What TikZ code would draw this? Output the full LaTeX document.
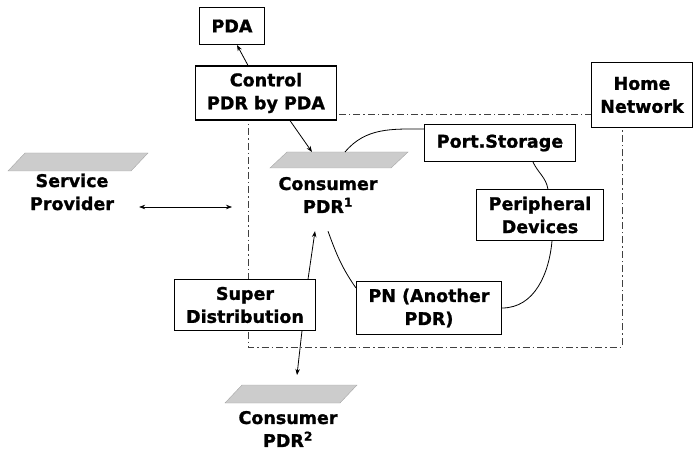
\documentclass[tikz,border=0pt]{standalone}
\usepackage{fontspec}
\setmainfont{DejaVu Sans}[BoldFeatures={FakeBold=1.2}]
\usetikzlibrary{arrows.meta}

\begin{document}
\begin{tikzpicture}[x=1pt, y=1pt,
    every node/.style={font=\fontsize{17.5}{23}\selectfont\bfseries, align=center},
    box/.style={draw, line width=1.1pt, fill=white, inner xsep=12pt, inner ysep=7pt, minimum height=37pt},
    plate/.style={fill=black!20, draw=black!35, line width=0.4pt},
    pdr/.style={inner xsep=25pt, inner ysep=18pt},
    link/.style={line width=0.8pt},
    arr/.style={link, -{Stealth[length=6pt, width=4.5pt]}},
    darr/.style={line width=0.6pt, {Stealth[length=6pt, width=4.5pt]}-{Stealth[length=6pt, width=4.5pt]}},
    homenet/.style={draw=black!75, line width=0.7pt, dash pattern=on 7pt off 3pt on 1.5pt off 3pt}]
    \useasboundingbox (0,0) rectangle (696,-470);

    % Home Network boundary
    \draw[homenet] (248,-114) rectangle (622,-347);

    % Gray plates under the PDRs
    \begin{scope}[shift={(78,-162)}]
        \filldraw[plate] (-70,-9) -- (-53,9) -- (70,9) -- (53,-9) -- cycle;
    \end{scope}
    \begin{scope}[shift={(339,-160)}]
        \filldraw[plate] (-69,-8) -- (-52,8) -- (69,8) -- (52,-8) -- cycle;
        \coordinate (c1plate) at (0,8);
    \end{scope}
    \begin{scope}[shift={(291,-394)}]
        \filldraw[plate] (-66,-9) -- (-49,9) -- (66,9) -- (49,-9) -- cycle;
        \coordinate (c2plate) at (0,9);
    \end{scope}

    \node[pdr] (sp) at (72,-192) {Service\\Provider};
    \node[pdr] (c1) at (328,-195) {Consumer\\PDR\textsuperscript{1}};
    \node[pdr] (c2) at (288,-429) {Consumer\\PDR\textsuperscript{2}};

    % Boxes
    \node[box] (pda) at (232,-26) {PDA};
    \node[box] (ctrl) at (266,-93) {Control\\PDR by PDA};
    \node[box, inner xsep=9pt, minimum height=65pt] (home) at (642,-95) {Home\\Network};
    \node[box] (port) at (500,-143) {Port.Storage};
    \node[box] (periph) at (540,-215) {Peripheral\\Devices};
    \node[box] (pn) at (429,-308) {PN (Another\\PDR)};
    \node[box] (super) at (245,-305) {Super\\Distribution};

    % Connectors
    \draw[arr] ([xshift=-18pt]ctrl.north) -- ([xshift=5pt]pda.south);
    \draw[arr] ([xshift=24pt]ctrl.south) -- ([xshift=-27pt]c1plate);
    \draw[link] ([xshift=6pt]c1plate) to[out=50, in=180] ([yshift=14pt]port.west);
    \draw[link] ([xshift=33pt]port.south) to[out=-65, in=100] ([xshift=8pt]periph.north);
    \draw[link] ([xshift=12pt]periph.south) to[out=-95, in=0] (pn.east);
    \draw[link] ([yshift=20pt]pn.west) to[out=125, in=-70] (c1.south);
    \draw[arr] ([xshift=63pt]super.north) -- ([xshift=-13pt]c1.south);
    \draw[arr] ([xshift=57pt]super.south) -- ([xshift=6pt, yshift=10pt]c2plate);

    \coordinate (hnedge) at (232,-207);
    \draw[darr] (sp.east |- hnedge) -- (hnedge);
\end{tikzpicture}
\end{document}
